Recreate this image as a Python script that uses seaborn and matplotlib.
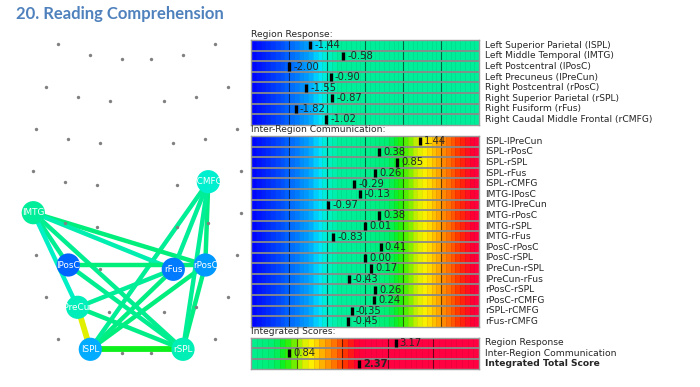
import numpy as np
import matplotlib
matplotlib.use("Agg")
import matplotlib.pyplot as plt
import seaborn as sns
from matplotlib.colors import LinearSegmentedColormap, Normalize
from matplotlib.patches import Circle

sns.set_style("white")

# ---- data ----
region_labels = ["Left Superior Parietal (lSPL)", "Left Middle Temporal (lMTG)",
                 "Left Postcentral (lPosC)", "Left Precuneus (lPreCun)",
                 "Right Postcentral (rPosC)", "Right Superior Parietal (rSPL)",
                 "Right Fusiform (rFus)", "Right Caudal Middle Frontal (rCMFG)"]
region_nodes = ["lSPL", "lMTG", "lPosC", "lPreCun", "rPosC", "rSPL", "rFus", "rCMFG"]
region_values = [-1.44, -0.58, -2.00, -0.90, -1.55, -0.87, -1.82, -1.02]

pair_labels = ["lSPL-lPreCun", "lSPL-rPosC", "lSPL-rSPL", "lSPL-rFus", "lSPL-rCMFG",
               "lMTG-lPosC", "lMTG-lPreCun", "lMTG-rPosC", "lMTG-rSPL", "lMTG-rFus",
               "lPosC-rPosC", "lPosC-rSPL", "lPreCun-rSPL", "lPreCun-rFus",
               "rPosC-rSPL", "rPosC-rCMFG", "rSPL-rCMFG", "rFus-rCMFG"]
pair_values = [1.44, 0.38, 0.85, 0.26, -0.29, -0.13, -0.97, 0.38, 0.01, -0.83,
               0.41, 0.00, 0.17, -0.43, 0.26, 0.24, -0.35, -0.45]

score_labels = ["Region Response", "Inter-Region Communication", "Integrated Total Score"]
score_values = [3.17, 0.84, 2.37]

# layout of the brain map (pixel-like units of the left panel)
dot_x = [58.3, 90.3, 122.3, 151, 183, 215,
         45.7, 77.7, 109.7, 163.7, 195.7, 227.7,
         36, 68, 99.7, 173.3, 205.3, 237.3,
         32.7, 65, 96.7, 176.7, 208.3, 240.7,
         33.3, 65, 96.7, 176.7, 208.3, 240.7,
         36, 68.3, 100, 173.3, 205.3, 237.3,
         45.7, 77.7, 109.3, 163.7, 195.7, 227.7,
         58.3, 90.3, 122.3, 151, 183, 215]
dot_y = [44.3, 55, 59.3, 59.3, 55, 44.3,
         86.7, 97.3, 101.3, 101.3, 97.3, 86.7,
         128.7, 139, 143.3, 143.3, 139, 128.7,
         170.7, 181.7, 185, 185, 181.7, 170.7,
         212.7, 223.3, 227.3, 227.3, 223.3, 212.7,
         255, 265, 269.3, 269.3, 265, 255,
         296.7, 307.3, 311.7, 311.7, 307.3, 296.7,
         339, 349.3, 353.3, 353.3, 349.3, 339]
node_x = [90.3, 33.3, 68.3, 77.7, 205.3, 183, 173.3, 208.3]
node_y = [349.3, 212.7, 265, 307.3, 265, 349.3, 269.3, 181.7]

# ---- colour scale ----
anchors = [(-3.0, "#0000FF"), (-2.5, "#0030FF"), (-2.0, "#0066FF"), (-1.5, "#00A0FF"),
           (-1.2, "#00E4FF"), (-1.0, "#00F0C8"), (-0.7, "#00EE9C"), (0.0, "#00EE90"),
           (0.6, "#00EE70"), (0.9, "#10F010"), (1.1, "#60F000"), (1.4, "#D8F000"),
           (1.6, "#FFF000"), (1.9, "#FFB000"), (2.2, "#FF7000"), (2.5, "#FF3000"),
           (2.8, "#FF0030"), (3.0, "#FF0040")]
cmap = LinearSegmentedColormap.from_list(
    "resp", [((v + 3) / 6, c) for v, c in anchors])
norm = Normalize(-3, 3)


def col(v):
    return cmap(norm(v))


fig = plt.figure(figsize=(7, 3.87), dpi=100)
W, H = 700, 387

fig.text(16 / W, 1 - 13.5 / H, "20. Reading Comprehension", family="Lato",
         fontweight="bold", fontsize=12, color="#4F81BD", va="center")

# ---- brain network ----
axn = fig.add_axes([0, 0, 250 / W, 1])
axn.set_xlim(0, 250)
axn.set_ylim(387, 0)
axn.axis("off")

pos = dict(zip(region_nodes, zip(node_x, node_y)))
for lab, v in zip(pair_labels, pair_values):
    a, b = lab.split("-")
    lw = 4.2 if v > 0.8 else 3.2
    axn.plot([pos[a][0], pos[b][0]], [pos[a][1], pos[b][1]], color=col(v),
             lw=lw, solid_capstyle="butt", zorder=1)

sns.scatterplot(x=dot_x, y=dot_y, color="#808080", s=6, linewidth=0, ax=axn,
                zorder=2, legend=False)

for name, x, y, v in zip(region_nodes, node_x, node_y, region_values):
    c = Circle((x, y), 11.6, facecolor=col(v), edgecolor="none", zorder=3)
    axn.add_patch(c)
    t = axn.text(x, y, name, color="white", fontsize=6.4, ha="center",
                 va="center", zorder=4)
    t.set_clip_path(c)


# ---- bar panels ----
def panel(top, labels, values, lo, hi, cscale, cmax, bold_last=False):
    n = len(labels)
    ax = fig.add_axes([251 / W, 1 - (top + n * 10.6) / H, 228 / W, n * 10.6 / H])
    edges = np.arange(lo, hi + 1e-9, 0.125)
    mids = (edges[:-1] + edges[1:]) / 2
    cv = np.minimum(mids * cscale, cmax)
    C = np.tile(cv, (n, 1))
    ax.pcolormesh(edges, np.arange(n + 1), C, cmap=cmap, norm=norm,
                  edgecolors=(0, 0, 0, 0.06), linewidth=0.4)
    for k in range(int(lo) + 1, int(hi)):
        ax.axvline(k, color="black", alpha=0.55, lw=0.8)
    for i in range(1, n):
        ax.axhline(i, color="#8a8a8a", lw=1.3)
    for s in ax.spines.values():
        s.set_color("#9a9a9a")
        s.set_linewidth(1)
    ax.set_xlim(lo, hi)
    ax.set_ylim(n, 0)
    ax.set_xticks([])
    ax.set_yticks([])
    for i, (lab, v) in enumerate(zip(labels, values)):
        fw = "bold" if (bold_last and i == n - 1) else "normal"
        ax.vlines(v, i + 0.12, i + 0.88, color="black", lw=2.4)
        ax.annotate(f"{v:.2f}", (v, i + 0.5), xytext=(3, 0),
                    textcoords="offset points", va="center", fontsize=7.2,
                    fontweight=fw)
        ax.text(1 + 6 / 228, i + 0.5, lab, transform=ax.get_yaxis_transform(),
                va="center", fontsize=6.6, fontweight=fw)
    return ax


fig.text(251 / W, 1 - 34.5 / H, "Region Response:", fontsize=6.6, va="center")
panel(40, region_labels, region_values, -3, 3, 1.0, -0.6)
fig.text(251 / W, 1 - 130 / H, "Inter-Region Communication:", fontsize=6.6, va="center")
panel(136, pair_labels, pair_values, -3, 3, 1.0, 3.0)
fig.text(251 / W, 1 - 332 / H, "Integrated Scores:", fontsize=6.6, va="center")
panel(337.5, score_labels, score_values, 0, 5, 1.2, 3.0, bold_last=True)

fig.savefig("out.png", dpi=100)
